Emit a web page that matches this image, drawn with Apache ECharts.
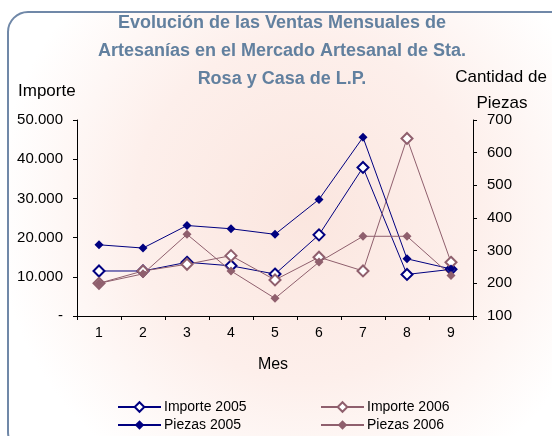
<!DOCTYPE html>
<html><head><meta charset="utf-8">
<script src="https://cdn.jsdelivr.net/npm/echarts@6/dist/echarts.min.js"></script>
<style>html,body{margin:0;padding:0;background:#fff}#c{width:552px;height:436px}</style>
</head><body><div id="c"></div>
<script>
var months = ['1','2','3','4','5','6','7','8','9'];
var importe2005 = [11480, 11480, 13700, 12800, 10700, 20700, 37900, 10600, 11900];
var importe2006 = [8340, 11480, 13200, 15400, 9200, 15000, 11500, 45300, 13700];
var piezas2005 = [318, 308, 377, 367, 350, 457, 647, 275, 244];
var piezas2006 = [200, 229, 350, 238, 154, 265, 344, 344, 224];
var titleLines = ['Evolución de las Ventas Mensuales de', 'Artesanías en el Mercado Artesanal de Sta.', 'Rosa y Casa de L.P.'];

var NAVY = '#000080', MAROON = '#8f5f6d', FONT = 'Liberation Sans, Arial, sans-serif';
var chart = echarts.init(document.getElementById('c'));
function hollow(name, data, color, yIdx) {
  return {name: name, type: 'line', data: data, yAxisIndex: yIdx, symbol: 'diamond', symbolSize: 11,
    lineStyle: {color: color, width: 1}, itemStyle: {color: '#ffffff', borderColor: color, borderWidth: 2}, z: 3};
}
function filled(name, data, color, yIdx) {
  return {name: name, type: 'line', data: data, yAxisIndex: yIdx, symbol: 'diamond', symbolSize: 9,
    lineStyle: {color: color, width: 1}, itemStyle: {color: color, borderColor: color, borderWidth: 0}, z: 4};
}
var graphics = [{
  type: 'rect', z: -10, silent: true,
  shape: {x: 8, y: 12, width: 570, height: 440, r: 20},
  style: {stroke: '#7088a8', lineWidth: 2,
    fill: new echarts.graphic.RadialGradient(0.52, 0.45, 0.7, [
      {offset: 0, color: '#fbe6df'}, {offset: 0.55, color: '#fdefeb'}, {offset: 1, color: '#ffffff'}])}
}];
titleLines.forEach(function (t, i) {
  graphics.push({type: 'text', x: 282, y: 23 + i * 28, style: {text: t, textAlign: 'center', textVerticalAlign: 'middle',
    font: 'bold 18px ' + FONT, fill: '#62809f'}});
});
graphics.push({type: 'text', x: 18, y: 91, style: {text: 'Importe', textVerticalAlign: 'middle', font: '17px ' + FONT, fill: '#000'}});
graphics.push({type: 'text', x: 501, y: 77, style: {text: 'Cantidad de', textAlign: 'center', textVerticalAlign: 'middle', font: '17px ' + FONT, fill: '#000'}});
graphics.push({type: 'text', x: 502, y: 103, style: {text: 'Piezas', textAlign: 'center', textVerticalAlign: 'middle', font: '17px ' + FONT, fill: '#000'}});
graphics.push({type: 'text', x: 273, y: 365, style: {text: 'Mes', textAlign: 'center', textVerticalAlign: 'middle', font: '16px ' + FONT, fill: '#000'}});

function leg(name, left, top) {
  return {data: [name], left: left, top: top, itemWidth: 43, itemHeight: 12, padding: 0,
    textStyle: {fontSize: 14, color: '#000', padding: [0, 0, 0, -2]}};
}

chart.setOption({
  animation: false,
  backgroundColor: '#ffffff',
  textStyle: {fontFamily: FONT},
  graphic: graphics,
  grid: {left: 77, right: 79, top: 120, bottom: 120},
  legend: [
    leg('Importe 2005', 117, 400), leg('Piezas 2005', 117, 418),
    leg('Importe 2006', 320, 400), leg('Piezas 2006', 320, 418)
  ],
  xAxis: {type: 'category', data: months, boundaryGap: true,
    axisLine: {lineStyle: {color: '#000', width: 1}}, axisTick: {show: true, length: 4, alignWithLabel: false, lineStyle: {color: '#000'}},
    axisLabel: {color: '#000', fontSize: 14, margin: 10}, splitLine: {show: false}},
  yAxis: [
    {type: 'value', min: 0, max: 50000, interval: 10000, position: 'left',
      axisLine: {show: true, lineStyle: {color: '#000'}}, axisTick: {show: true, length: 4, lineStyle: {color: '#000'}},
      splitLine: {show: false},
      axisLabel: {color: '#000', fontSize: 15, margin: 14, formatter: function (v) {
        if (v === 0) return '-';
        return String(v / 1000) + '.000';
      }}},
    {type: 'value', min: 100, max: 700, interval: 100, position: 'right',
      axisLine: {show: true, lineStyle: {color: '#000'}}, axisTick: {show: true, length: 4, lineStyle: {color: '#000'}},
      splitLine: {show: false},
      axisLabel: {color: '#000', fontSize: 15, margin: 14}}
  ],
  series: [
    hollow('Importe 2005', importe2005, NAVY, 0),
    hollow('Importe 2006', importe2006, MAROON, 0),
    filled('Piezas 2005', piezas2005, NAVY, 1),
    filled('Piezas 2006', piezas2006, MAROON, 1)
  ]
});
</script></body></html>
